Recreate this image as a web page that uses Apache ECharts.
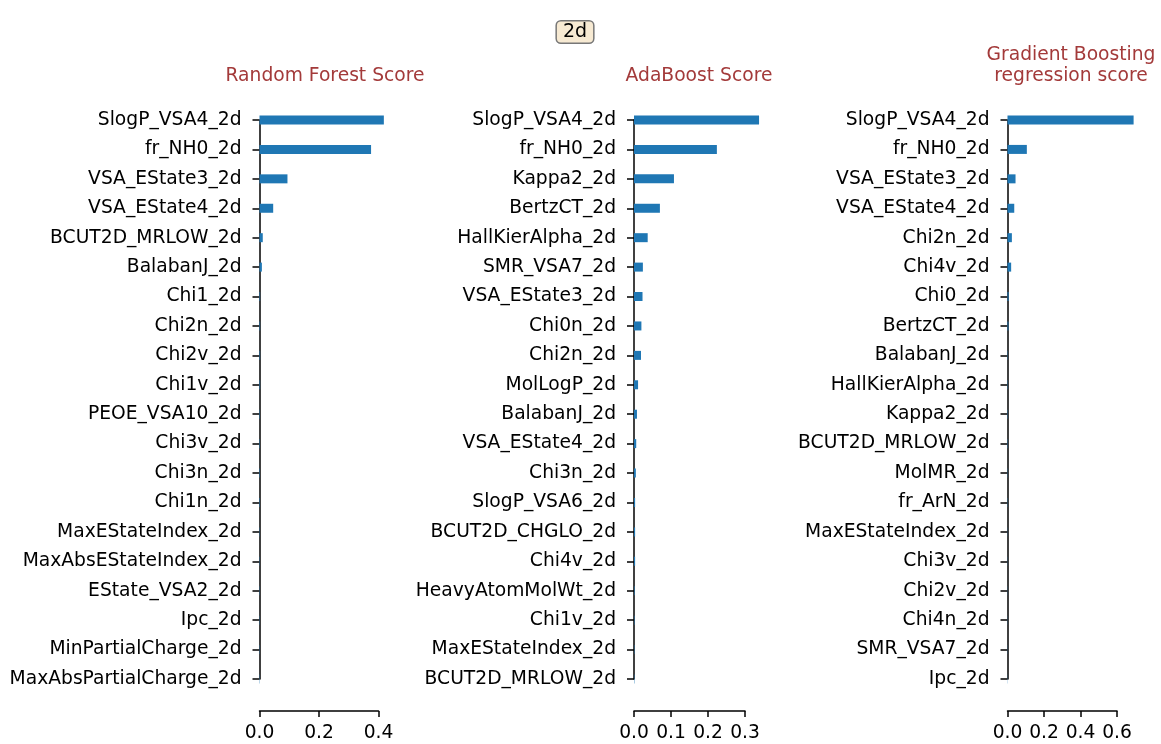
<!DOCTYPE html>
<html>
<head>
<meta charset="utf-8">
<script src="https://cdn.jsdelivr.net/npm/echarts@6/dist/echarts.min.js"></script>
<style>html,body{margin:0;padding:0;background:#fff;}#c{width:1161px;height:744px;}</style>
</head>
<body>
<div id="c"></div>
<script>
const rfCategories = ["SlogP_VSA4_2d","fr_NH0_2d","VSA_EState3_2d","VSA_EState4_2d","BCUT2D_MRLOW_2d","BalabanJ_2d","Chi1_2d","Chi2n_2d","Chi2v_2d","Chi1v_2d","PEOE_VSA10_2d","Chi3v_2d","Chi3n_2d","Chi1n_2d","MaxEStateIndex_2d","MaxAbsEStateIndex_2d","EState_VSA2_2d","Ipc_2d","MinPartialCharge_2d","MaxAbsPartialCharge_2d"];
const rfValues = [0.418,0.375,0.094,0.046,0.011,0.008,0.002,0.002,0.002,0.002,0.0015,0.0015,0.0015,0.0015,0.001,0.001,0.001,0.001,0.001,0.001];

const adaCategories = ["SlogP_VSA4_2d","fr_NH0_2d","Kappa2_2d","BertzCT_2d","HallKierAlpha_2d","SMR_VSA7_2d","VSA_EState3_2d","Chi0n_2d","Chi2n_2d","MolLogP_2d","BalabanJ_2d","VSA_EState4_2d","Chi3n_2d","SlogP_VSA6_2d","BCUT2D_CHGLO_2d","Chi4v_2d","HeavyAtomMolWt_2d","Chi1v_2d","MaxEStateIndex_2d","BCUT2D_MRLOW_2d"];
const adaValues = [0.338,0.224,0.108,0.070,0.037,0.024,0.023,0.020,0.019,0.011,0.008,0.006,0.005,0.003,0.003,0.003,0.0015,0.0012,0.001,0.001];

const gbCategories = ["SlogP_VSA4_2d","fr_NH0_2d","VSA_EState3_2d","VSA_EState4_2d","Chi2n_2d","Chi4v_2d","Chi0_2d","BertzCT_2d","BalabanJ_2d","HallKierAlpha_2d","Kappa2_2d","BCUT2D_MRLOW_2d","MolMR_2d","fr_ArN_2d","MaxEStateIndex_2d","Chi3v_2d","Chi2v_2d","Chi4n_2d","SMR_VSA7_2d","Ipc_2d"];
const gbValues = [0.691,0.106,0.044,0.037,0.024,0.020,0.006,0.005,0.002,0.002,0.002,0.002,0.0015,0.0015,0.001,0.001,0.001,0.001,0.001,0.001];

const xTickMax = [0.4, 0.3, 0.6];
const xTickStep = [0.2, 0.1, 0.2];
const panelTitles = ["Random Forest Score", "AdaBoost Score", "Gradient Boosting\nregression score"];

const FONT = "DejaVu Sans";
const FS = 18.7;
const BAR = "#1f77b4";
const chart = echarts.init(document.getElementById('c'), null, {renderer: 'canvas'});

const grids = [
  {left: 259.5, top: 120, width: 119, height: 559},
  {left: 634, top: 120, width: 111, height: 559},
  {left: 1007.5, top: 120, width: 109.5, height: 559}
];
const cats = [rfCategories, adaCategories, gbCategories];
const vals = [rfValues, adaValues, gbValues];
const titleX = [325, 699, 1071];
const titleY = [76, 76, 66];

const xAxes = [], yAxes = [], series = [], graphics = [];
for (let i = 0; i < 3; i++) {
  xAxes.push({
    type: 'value', gridIndex: i, min: 0, max: xTickMax[i], interval: xTickStep[i],
    position: 'bottom', offset: 32,
    axisLine: {show: true, lineStyle: {color: '#000', width: 1.5}},
    axisTick: {show: true, length: 6, lineStyle: {color: '#000', width: 1.5}},
    axisLabel: {color: '#000', fontFamily: FONT, fontSize: FS, margin: 13,
      formatter: v => v.toFixed(1)},
    splitLine: {show: false}
  });
  yAxes.push({
    type: 'category', gridIndex: i, data: cats[i], inverse: true, boundaryGap: false,
    axisLine: {show: true, lineStyle: {color: '#000', width: 1.5}},
    axisTick: {show: true, length: 7, lineStyle: {color: '#000', width: 1.5}},
    axisLabel: {color: '#000', fontFamily: FONT, fontSize: FS, margin: 18, interval: 0},
    splitLine: {show: false}
  });
  series.push({
    type: 'bar', xAxisIndex: i, yAxisIndex: i, data: vals[i], barWidth: 9,
    clip: false, itemStyle: {color: BAR}, z: 1
  });
  graphics.push({
    type: 'text', x: titleX[i], y: titleY[i], z: 10,
    style: {text: panelTitles[i], fill: '#a33a3a', font: FS + 'px "DejaVu Sans"',
      textAlign: 'center', textVerticalAlign: 'middle', lineHeight: 21}
  });
}
graphics.push({
  type: 'text', x: 575, y: 32, z: 10,
  style: {text: '2d', fill: '#000', font: '19px "DejaVu Sans"', textAlign: 'center',
    textVerticalAlign: 'middle', backgroundColor: '#f7ead3', borderColor: '#777',
    borderWidth: 1.5, borderRadius: 4, padding: [1, 6, 1, 6]}
});

chart.setOption({
  backgroundColor: '#fff',
  animation: false,
  grid: grids,
  xAxis: xAxes,
  yAxis: yAxes,
  series: series,
  graphic: graphics
});
</script>
</body>
</html>
